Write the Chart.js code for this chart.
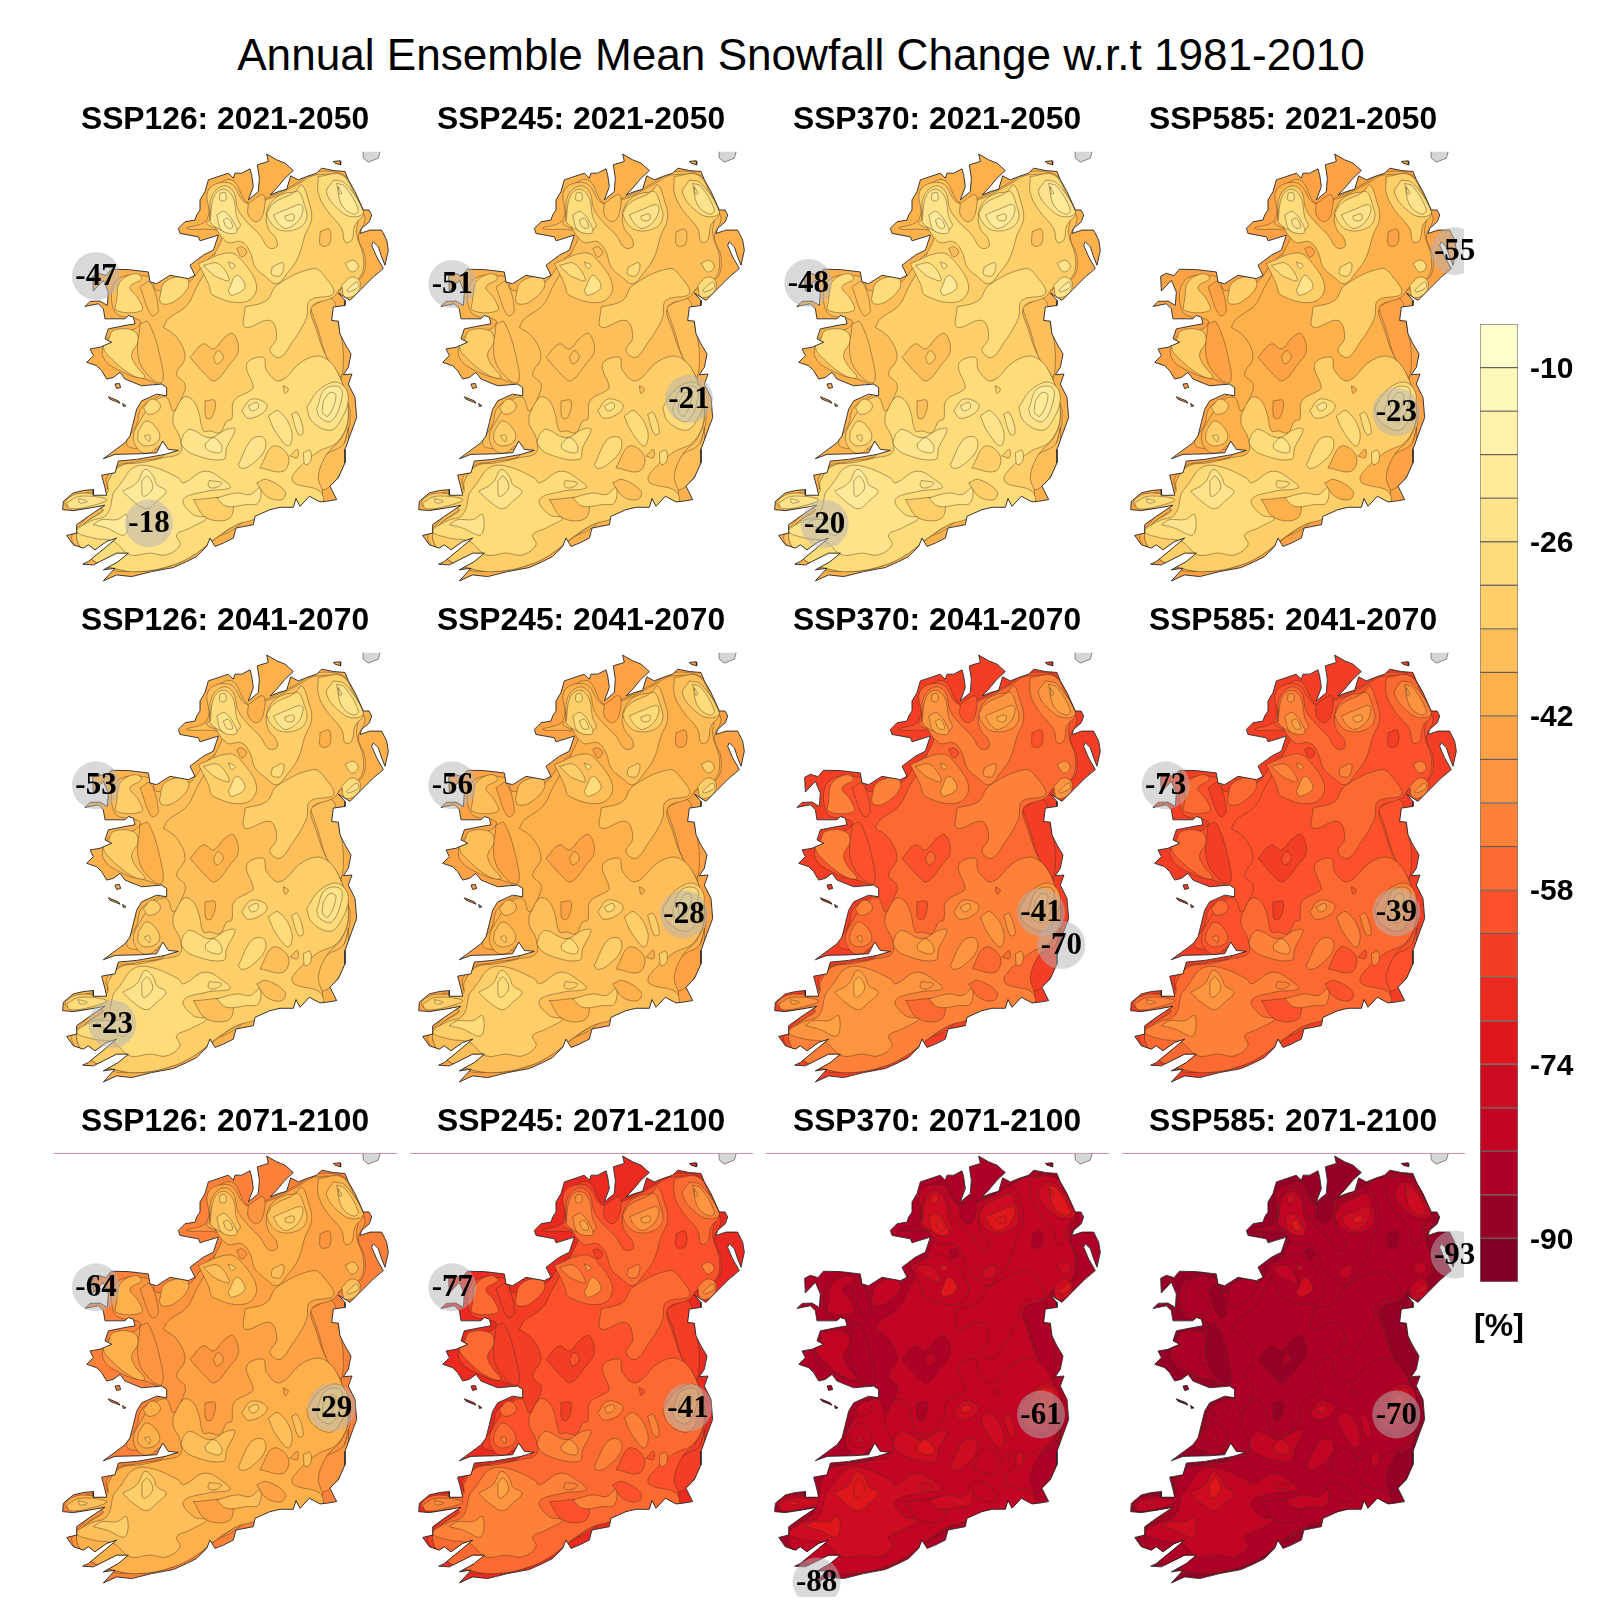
<!DOCTYPE html>
<html>
<head>
<meta charset="utf-8">
<title>Annual Ensemble Mean Snowfall Change</title>
<script src="https://cdn.jsdelivr.net/npm/chart.js@4"></script>
<style>
  body { margin: 0; background: #fff; width: 1600px; height: 1600px; position: relative; overflow: hidden; }
  canvas { position: absolute; }
  #mainTitle { position: absolute; left: 0; top: 30px; width: 1602px; text-align: center; font: 44.1px "Liberation Sans"; color: #000; white-space: nowrap; }
</style>
</head>
<body>
<div id="mainTitle">Annual Ensemble Mean Snowfall Change w.r.t 1981-2010</div>
<script>
// titles
var scenarios = ["SSP126", "SSP245", "SSP370", "SSP585"];
var periods = ["2021-2050", "2041-2070", "2071-2100"];

// colour bar
var bandEdges = [-6, -10, -14, -18, -22, -26, -30, -34, -38, -42, -46, -50, -54, -58, -62, -66, -70, -74, -78, -82, -86, -90, -94];
var bandColors = ["#ffffcc", "#fff8bb", "#fff1ab", "#ffea9a", "#fee38a", "#fedc7a", "#fece68", "#febf5a", "#feb14b", "#fea245", "#fd943f",
                  "#fd8139", "#fc6a32", "#fc512b", "#f43d25", "#ea2920", "#df171d", "#cd0c21", "#c20425", "#ae0026", "#970026", "#800026"];
var barTicks = [-10, -26, -42, -58, -74, -90];

// percent change per zone type, read panel by panel (rows: period, columns: scenario)
var tierNames = ["coast", "inland", "east", "plain", "pocket", "broad", "patch", "inner", "peak"];
var levels_126_2021 = [-40, -36, -36, -32, -36, -28, -24, -20, -20];
var levels_245_2021 = [-40, -36, -36, -36, -36, -32, -28, -24, -24];
var levels_370_2021 = [-40, -36, -36, -32, -36, -28, -24, -20, -20];
var levels_585_2021 = [-44, -40, -44, -40, -44, -32, -28, -24, -24];
var levels_126_2041 = [-40, -36, -36, -36, -40, -32, -28, -24, -24];
var levels_245_2041 = [-44, -40, -44, -40, -44, -36, -32, -28, -28];
var levels_370_2041 = [-64, -60, -64, -56, -60, -52, -48, -44, -40];
var levels_585_2041 = [-64, -60, -60, -60, -64, -56, -52, -48, -44];
var levels_126_2071 = [-52, -48, -48, -44, -48, -40, -36, -32, -32];
var levels_245_2071 = [-68, -64, -64, -60, -64, -56, -52, -48, -44];
var levels_370_2071 = [-84, -84, -84, -80, -84, -80, -76, -72, -72];
var levels_585_2071 = [-88, -84, -88, -84, -88, -84, -80, -76, -72];
var panelLevels = [levels_126_2021, levels_245_2021, levels_370_2021, levels_585_2021,
                   levels_126_2041, levels_245_2041, levels_370_2041, levels_585_2041,
                   levels_126_2071, levels_245_2071, levels_370_2071, levels_585_2071];

// min / max markers: [x, y, value]
var sites_126_2021 = [[168, 557, -47], [327, 1296, -18]];
var sites_245_2021 = [[169, 581, -51], [879, 924, -21]];
var sites_370_2021 = [[169, 578, -48], [218, 1298, -20]];
var sites_585_2021 = [[1040, 483, -55], [865, 964, -23]];
var sites_126_2041 = [[168, 582, -53], [217, 1295, -23]];
var sites_245_2041 = [[169, 582, -56], [864, 967, -28]];
var sites_370_2041 = [[867, 961, -41], [928, 1059, -70]];
var sites_585_2041 = [[173, 582, -73], [865, 961, -39]];
var sites_126_2071 = [[168, 585, -64], [875, 944, -29]];
var sites_245_2071 = [[169, 585, -77], [876, 944, -41]];
var sites_370_2071 = [[867, 965, -61], [194, 1464, -88]];
var sites_585_2071 = [[1040, 487, -93], [865, 965, -70]];
var panelSites = [sites_126_2021, sites_245_2021, sites_370_2021, sites_585_2021,
                  sites_126_2041, sites_245_2041, sites_370_2041, sites_585_2041,
                  sites_126_2071, sites_245_2071, sites_370_2071, sites_585_2071];

// map outlines, in map grid units
var coastLine = [[680,193],[710,210],[735,220],[760,242],[735,265],[710,295],[690,315],[715,305],[740,298],[752,258],[775,270],[800,260],[830,250],[845,235],[880,242],[915,245],
  [925,270],[945,305],[970,360],[987,360],[995,375],[988,395],[965,415],[960,430],[990,420],[1025,420],[1040,450],[1045,480],[1035,525],[1025,500],[1015,470],[1000,455],[995,465],
  [1010,500],[1030,535],[1000,560],[960,600],[930,630],[895,608],[915,630],[915,645],[880,650],[875,690],[895,692],[900,730],[915,760],[933,790],[925,830],[910,852],[936,850],
  [925,880],[945,920],[950,980],[935,1020],[915,1075],[915,1115],[895,1160],[870,1185],[890,1225],[860,1230],[840,1232],[808,1215],[780,1245],[768,1222],[760,1248],[720,1248],
  [690,1255],[645,1275],[640,1300],[588,1310],[580,1340],[550,1355],[525,1365],[510,1340],[500,1365],[470,1395],[440,1410],[400,1428],[335,1440],[275,1455],[230,1450],[190,1468],
  [225,1430],[190,1435],[235,1410],[265,1385],[230,1385],[160,1420],[128,1418],[145,1410],[200,1365],[230,1340],[200,1350],[165,1375],[145,1360],[130,1370],[100,1360],[80,1332],
  [110,1325],[110,1300],[145,1275],[195,1242],[150,1250],[100,1258],[68,1255],[70,1230],[100,1205],[130,1198],[160,1195],[160,1212],[200,1212],[195,1190],[185,1152],[225,1145],
  [235,1110],[290,1105],[375,1090],[415,1078],[385,1075],[368,1050],[350,1085],[305,1088],[225,1090],[190,1103],[255,1055],[270,1035],[280,995],[290,955],[305,930],[350,910],
  [380,915],[380,890],[365,880],[305,885],[255,865],[240,845],[220,860],[200,865],[185,840],[170,825],[140,815],[160,795],[150,775],[180,770],[215,755],[195,745],[205,715],[255,705],
  [285,700],[280,680],[265,675],[255,685],[195,685],[190,655],[175,640],[135,648],[150,633],[180,632],[202,645],[205,605],[190,570],[160,602],[158,558],[175,549],[198,556],[214,537],
  [265,538],[325,545],[330,575],[350,580],[390,555],[445,565],[465,555],[450,525],[490,495],[520,480],[535,435],[480,452],[475,440],[420,430],[415,415],[435,395],[465,390],[470,375],
  [480,360],[480,330],[495,305],[505,270],[565,250],[580,265],[585,250],[605,250],[630,237],[635,255],[640,290],[625,330],[655,305],[658,265],[652,225],[685,215],[680,193]];
var aranIsland = [[205,918],[235,930],[240,937],[210,925],[205,918]];
var inisheer = [[248,938],[258,945],[250,947],[248,938]];
var clareIsland = [[225,880],[238,878],[242,890],[230,893],[225,880]];
var rathlin = [[880,215],[900,213],[902,225],[885,220],[880,215]];
var scotland = [[968,170],[1025,170],[1015,205],[985,217],[970,205],[968,170]];

// contour shapes, biggest first
var inlandRing = [[505,300],[575,270],[625,340],[690,320],[770,280],[835,245],[925,265],[950,340],[975,385],[955,440],[975,500],[965,560],[905,595],[870,625],[870,680],
  [890,740],[905,830],[905,900],[930,960],[915,1050],[880,1120],[860,1180],[800,1215],[700,1240],[640,1270],[570,1320],[510,1345],[430,1395],[330,1425],[270,1440],[200,1430],[140,1390],
  [95,1340],[130,1290],[170,1245],[90,1240],[110,1215],[200,1205],[200,1160],[240,1120],[300,1115],[400,1085],[360,1075],[310,1075],[260,1060],[290,1000],[305,950],[370,900],[330,870],
  [260,850],[190,800],[210,735],[285,715],[300,690],[225,665],[230,570],[330,560],[350,600],[440,580],[500,510],[545,470],[545,425],[440,415],[500,390]];
var eastNorth = [[810,650],[875,625],[895,700],[910,790],[900,860],[860,800],[835,720]];
var eastSouth = [[830,1155],[855,1095],[910,1060],[925,1010],[915,1115],[870,1185],[835,1195]];
var plainCentre = [[370,710],[385,685],[440,645],[470,590],[530,480],[545,430],[500,400],[510,385],[505,300],[570,280],[620,340],[690,325],[770,285],[830,255],[930,270],[960,350],
  [950,430],[970,500],[960,560],[905,590],[880,620],[815,650],[830,720],[860,800],[900,860],[925,970],[905,1040],[860,1090],[835,1155],[845,1215],[770,1240],[690,1250],[640,1275],
  [590,1300],[530,1340],[470,1385],[400,1420],[300,1440],[220,1430],[150,1400],[110,1340],[130,1300],[190,1250],[110,1250],[80,1230],[140,1205],[200,1195],[215,1150],[240,1125],[300,1110],
  [370,1095],[360,1065],[330,1085],[300,1080],[280,1040],[300,990],[345,930],[380,920],[400,960],[430,910],[435,880],[410,850],[435,800],[410,740]];
var broadNorth = [[510,385],[515,320],[550,288],[580,305],[595,360],[625,400],[660,435],[685,472],[710,470],[708,445],[685,415],[680,370],[700,330],[735,310],[765,305],[785,285],[805,330],
  [815,385],[795,435],[775,500],[745,545],[710,580],[675,558],[645,530],[630,485],[605,455],[560,455]];
var broadLeitrim = [[475,520],[565,488],[605,510],[650,590],[615,635],[520,615],[505,580]];
var broadLobe = [[615,650],[680,630],[710,585],[820,535],[855,560],[880,610],[810,630],[800,680],[780,720],[760,750],[720,800],[690,780],[710,740],[690,690],[615,710]];
var broadAntrim = [[835,260],[905,255],[945,315],[970,370],[945,405],[935,450],[915,455],[905,415],[860,360],[835,310]];
var broadSouth = [[400,970],[430,920],[455,925],[475,960],[490,1020],[510,1020],[540,1025],[560,990],[575,985],[582,930],[630,900],[640,890],[620,820],[670,800],[680,840],[720,870],[790,810],
  [850,800],[900,860],[925,970],[895,1050],[830,1085],[760,1150],[762,1175],[840,1200],[845,1240],[770,1250],[690,1260],[640,1285],[590,1300],[520,1345],[470,1385],[400,1420],[300,1440],
  [220,1430],[150,1400],[110,1340],[130,1300],[190,1255],[105,1252],[75,1235],[110,1208],[200,1205],[205,1170],[240,1125],[300,1115],[370,1100],[420,1085],[420,1040],[400,1000]];
var broadConnemara = [[205,750],[220,720],[280,720],[295,750],[275,790],[285,820],[315,860],[280,855],[215,805],[190,770]];
var broadErris = [[230,625],[240,575],[285,550],[305,565],[270,590],[295,625],[305,660],[230,660]];
var broadNephin = [[358,625],[375,575],[435,560],[445,590],[400,635],[365,640]];
var broadClare = [[295,1020],[320,990],[355,1020],[355,1050],[320,1065],[295,1050]];
var broadBurren = [[310,950],[335,925],[360,940],[355,960],[325,970]];
var plainCork = [[460,1225],[570,1225],[570,1280],[500,1280]];
var plainTipp = [[660,1130],[700,1065],[745,1095],[730,1140]];
var plainKilkenny = [[750,1095],[772,1075],[772,1100]];
var plainWaterford = [[650,1175],[680,1165],[735,1200],[725,1225],[680,1215]];
var plainDot = [[730,885],[745,895],[735,908]];
var plainDelvin = [[520,800],[535,780],[550,800],[530,820]];
var pocketMayo = [[300,700],[325,695],[365,820],[365,875],[330,860],[295,800]];
var pocketErris = [[300,590],[330,575],[355,660],[335,675]];
var pocketMeath = [[450,800],[490,760],[520,775],[555,740],[580,730],[595,780],[570,820],[525,870],[500,855]];
var pocketTyrone = [[840,425],[868,418],[868,462],[842,465]];
var pocketDerry = [[625,340],[670,315],[670,370],[650,395],[625,375]];
var pocketOffaly = [[495,930],[525,930],[515,980],[498,980]];
var pocketCavan = [[590,475],[605,470],[620,485],[605,500]];
var patchDonegal = [[510,395],[522,320],[550,298],[578,320],[590,380],[600,410],[565,425],[525,410]];
var patchSperrin = [[680,370],[700,340],[750,315],[775,305],[792,340],[800,385],[775,415],[720,420],[690,395]];
var patchAntrim = [[880,270],[915,280],[970,365],[950,380],[910,370],[860,310]];
var patchMourne = [[905,585],[935,560],[960,575],[950,610],[915,620]];
var patchDown = [[915,520],[940,510],[955,530],[935,545]];
var patchLeitrim = [[490,525],[535,520],[568,570],[530,560],[510,545]];
var patchCavan = [[697,530],[730,518],[722,555],[695,552]];
var patchWicklow = [[800,950],[840,895],[895,875],[925,920],[895,1000],[865,1018],[815,990]];
var patchBloom = [[605,960],[635,925],[680,940],[670,965],[625,982]];
var patchTipp = [[685,975],[715,960],[755,1020],[745,1065],[705,1020]];
var patchSlaney = [[755,970],[772,965],[790,1025],[775,1030]];
var patchKnock = [[595,1120],[635,1045],[670,1040],[675,1075],[635,1120],[605,1132]];
var patchBlack = [[790,1085],[810,1078],[812,1110],[795,1120]];
var patchGalty = [[430,1030],[450,1015],[510,1040],[560,1015],[585,1015],[560,1070],[550,1105],[460,1090],[425,1060]];
var patchKerry = [[220,1205],[240,1180],[280,1130],[330,1125],[415,1160],[430,1175],[495,1140],[555,1170],[570,1190],[500,1200],[430,1225],[460,1270],[500,1280],[450,1310],[410,1330],[420,1360],
  [380,1390],[330,1385],[270,1390],[220,1350],[160,1340],[110,1320],[150,1290],[200,1270]];
var patchDingle = [[80,1235],[120,1215],[200,1225],[150,1245],[90,1252]];
var patchCork = [[508,1168],[545,1175],[525,1190],[505,1185]];
var patchComeragh = [[530,1220],[590,1205],[630,1210],[660,1190],[655,1235],[620,1240],[560,1245]];
var patchClareCore = [[313,1035],[328,1032],[328,1052]];
var innerWicklow = [[830,955],[855,895],[900,890],[905,925],[875,990],[840,980]];
var innerDonegal = [[530,375],[555,365],[590,415],[585,430],[545,420]];
var innerDerryveagh = [[540,310],[555,308],[557,330],[540,330]];
var innerSperrin = [[700,375],[735,360],[785,345],[780,385],[740,415],[715,400]];
var innerAntrim = [[890,280],[915,290],[955,360],[940,372],[905,345]];
var innerLeitrim = [[565,600],[590,555],[615,590],[575,615]];
var innerArigna = [[565,515],[585,525],[575,535]];
var innerDown = [[920,600],[950,575],[955,590],[925,605]];
var innerGalty = [[495,1060],[520,1040],[545,1065],[540,1085],[500,1075]];
var innerKerry = [[248,1200],[290,1175],[315,1135],[340,1155],[350,1180],[378,1200],[350,1230],[320,1252],[280,1230]];
var innerCork = [[160,1300],[185,1285],[230,1285],[260,1270],[255,1330],[200,1310]];
var innerDingle = [[115,1222],[142,1230],[120,1235]];
var innerBloom = [[625,945],[650,935],[655,950],[635,960]];
var peakAntrim = [[895,290],[905,310],[898,312]];
var peakSperrin = [[735,378],[760,372],[760,390],[738,390]];
var peakDonegal = [[550,390],[565,385],[578,412],[560,412]];
var peakKerry = [[305,1170],[322,1155],[338,1190],[310,1215]];
var peakWicklow = [[850,930],[870,905],[888,915],[865,975],[848,965]];

var zoneShapes = [
  ["inland", inlandRing], ["east", eastNorth], ["east", eastSouth], ["plain", plainCentre],
  ["broad", broadNorth], ["broad", broadLeitrim], ["broad", broadLobe], ["broad", broadAntrim], ["broad", broadSouth], ["broad", broadConnemara], ["broad", broadErris],
  ["broad", broadNephin], ["broad", broadClare], ["broad", broadBurren],
  ["plain", plainCork], ["plain", plainTipp], ["plain", plainKilkenny], ["plain", plainWaterford], ["plain", plainDot],
  ["pocket", pocketMayo], ["pocket", pocketErris], ["pocket", pocketMeath], ["plain", plainDelvin], ["pocket", pocketTyrone], ["pocket", pocketDerry], ["pocket", pocketOffaly], ["pocket", pocketCavan],
  ["patch", patchDonegal], ["patch", patchSperrin], ["patch", patchAntrim], ["patch", patchMourne], ["patch", patchDown], ["patch", patchLeitrim], ["patch", patchCavan],
  ["patch", patchWicklow], ["patch", patchBloom], ["patch", patchTipp], ["patch", patchSlaney], ["patch", patchKnock], ["patch", patchBlack], ["patch", patchGalty], ["patch", patchKerry],
  ["patch", patchDingle], ["patch", patchCork], ["patch", patchComeragh], ["patch", patchClareCore],
  ["inner", innerWicklow], ["inner", innerDonegal], ["inner", innerDerryveagh], ["inner", innerSperrin], ["inner", innerAntrim], ["inner", innerLeitrim], ["inner", innerArigna], ["inner", innerDown],
  ["inner", innerGalty], ["inner", innerKerry], ["inner", innerCork], ["inner", innerDingle], ["inner", innerBloom],
  ["peak", peakAntrim], ["peak", peakSperrin], ["peak", peakDonegal], ["peak", peakKerry], ["peak", peakWicklow]
];

// colour for a percent value
function bandColor(value) {
    var i = Math.floor((-6 - value) / 4);
    return bandColors[Math.max(0, Math.min(bandColors.length - 1, i))];
}

function closed(points) {
    return points.concat([points[0]]);
}

function zoneDataset(points, color) {
    return {
        data: closed(points),
        showLine: true,
        fill: "shape",
        tension: 0.4,
        backgroundColor: color,
        borderColor: "rgba(70,50,30,0.55)",
        borderWidth: 0.8,
        pointRadius: 0
    };
}

function landDataset(points, color, line) {
    return {
        data: points,
        showLine: true,
        fill: "shape",
        tension: 0,
        backgroundColor: color,
        borderColor: line,
        borderWidth: 0.9,
        pointRadius: 0
    };
}

// land is clipped to the coast until the coast outline is reached
var coastClip = {
    id: "coastClip",
    beforeDatasetsDraw: function(chart) {
        var ctx = chart.ctx;
        var sx = chart.scales.x;
        var sy = chart.scales.y;
        ctx.save();
        ctx.beginPath();
        coastLine.forEach(function(p, i) {
            var px = sx.getPixelForValue(p[0]);
            var py = sy.getPixelForValue(p[1]);
            if (i == 0) ctx.moveTo(px, py); else ctx.lineTo(px, py);
        });
        ctx.closePath();
        ctx.clip();
    },
    beforeDatasetDraw: function(chart, args) {
        if (args.index == chart.options.plugins.coastClip.releaseAt) chart.ctx.restore();
    }
};

// the numbers on the min / max markers
var siteLabels = {
    id: "siteLabels",
    afterDatasetsDraw: function(chart) {
        var ctx = chart.ctx;
        ctx.save();
        ctx.font = "bold 31px 'Liberation Serif'";
        ctx.fillStyle = "#000";
        ctx.textAlign = "center";
        ctx.textBaseline = "middle";
        chart.options.plugins.siteLabels.sites.forEach(function(s) {
            ctx.fillText(String(s[2]), chart.scales.x.getPixelForValue(s[0]), chart.scales.y.getPixelForValue(s[1]) + 1);
        });
        ctx.restore();
    }
};

function drawPanel(row, col) {
    var n = row * 4 + col;
    var levels = panelLevels[n];
    var canvas = document.createElement("canvas");
    canvas.width = 390;
    canvas.height = 494;
    canvas.style.left = (30 + col * 356) + "px";
    canvas.style.top = (101 + row * 501) + "px";
    document.body.appendChild(canvas);

    // bottom layer first, reversed below since Chart.js paints the first dataset last
    var layers = [landDataset(coastLine, bandColor(levels[0]), "rgba(0,0,0,0)")];
    zoneShapes.forEach(function(z) {
        layers.push(zoneDataset(z[1], bandColor(levels[tierNames.indexOf(z[0])])));
    });
    var coastAt = layers.length;
    layers.push(landDataset(coastLine, "rgba(0,0,0,0)", "#222"));
    layers[coastAt].fill = false;
    layers.push(landDataset(aranIsland, bandColor(levels[0]), "#222"));
    layers.push(landDataset(inisheer, bandColor(levels[0]), "#222"));
    layers.push(landDataset(clareIsland, bandColor(levels[0]), "#222"));
    layers.push(landDataset(rathlin, bandColor(levels[0]), "#222"));
    layers.push(landDataset(scotland, "#d6d6d6", "#777"));
    layers.push({
        data: panelSites[n].map(function(s) { return { x: s[0], y: s[1] }; }),
        showLine: false,
        pointRadius: 24,
        pointBackgroundColor: "rgba(180,180,180,0.5)",
        pointBorderWidth: 0
    });
    layers.reverse();

    new Chart(canvas.getContext("2d"), {
        type: "scatter",
        data: { datasets: layers },
        plugins: [coastClip, siteLabels],
        options: {
            responsive: false,
            animation: false,
            layout: { autoPadding: false, padding: { left: 24, right: 24 } },
            plugins: {
                legend: { display: false },
                tooltip: { enabled: false },
                coastClip: { releaseAt: layers.length - 1 - coastAt },
                siteLabels: { sites: panelSites[n] },
                title: {
                    display: true,
                    text: scenarios[col] + ": " + periods[row],
                    color: "#000",
                    font: { family: "Liberation Sans", size: 31.8, weight: "bold" },
                    padding: { top: 0, bottom: 12.6 }
                }
            },
            scales: {
                x: {
                    type: "linear", min: 42, max: 1068, position: "top",
                    display: row == 2,
                    ticks: { display: false },
                    grid: { display: false, drawTicks: false },
                    border: { display: true, color: "rgba(190,70,90,0.6)", width: 1 }
                },
                y: { type: "linear", min: 186, max: 1510, reverse: true, display: false }
            }
        }
    });
}

for (var r = 0; r < periods.length; r++) {
    for (var c = 0; c < scenarios.length; c++) {
        drawPanel(r, c);
    }
}

// the unit under the colour bar
var unitLabel = {
    id: "unitLabel",
    afterDraw: function(chart) {
        var ctx = chart.ctx;
        ctx.save();
        ctx.font = "bold 32px 'Liberation Sans'";
        ctx.fillStyle = "#000";
        ctx.textAlign = "center";
        ctx.textBaseline = "middle";
        ctx.fillText("[%]", (chart.chartArea.left + chart.chartArea.right) / 2, chart.chartArea.bottom + 45);
        ctx.restore();
    }
};

// colour bar, one floating bar per band
var barCanvas = document.createElement("canvas");
barCanvas.width = 120;
barCanvas.height = 1057;
barCanvas.style.left = "1470px";
barCanvas.style.top = "294px";
document.body.appendChild(barCanvas);

new Chart(barCanvas.getContext("2d"), {
    type: "bar",
    data: {
        labels: ["%"],
        datasets: bandColors.map(function(color, i) {
            return {
                data: [[bandEdges[i + 1], bandEdges[i]]],
                backgroundColor: color,
                borderColor: "rgba(60,50,40,0.65)",
                borderWidth: 1,
                borderSkipped: false,
                grouped: false,
                barPercentage: 1,
                categoryPercentage: 1
            };
        })
    },
    plugins: [unitLabel],
    options: {
        responsive: false,
        animation: false,
        layout: { padding: { top: 23.5, bottom: 69, left: 10 } },
        plugins: { legend: { display: false }, tooltip: { enabled: false } },
        scales: {
            x: {
                display: false
            },
            y: {
                position: "right",
                min: -94,
                max: -6,
                afterBuildTicks: function(axis) {
                    axis.ticks = barTicks.map(function(v) { return { value: v }; });
                },
                afterFit: function(axis) { axis.width = 72; },
                ticks: {
                    autoSkip: false,
                    padding: 12,
                    labelOffset: 2,
                    color: "#000",
                    font: { family: "Liberation Sans", size: 30, weight: "bold" }
                },
                grid: { display: false, drawTicks: false },
                border: { display: false }
            }
        }
    }
});
</script>
</body>
</html>
